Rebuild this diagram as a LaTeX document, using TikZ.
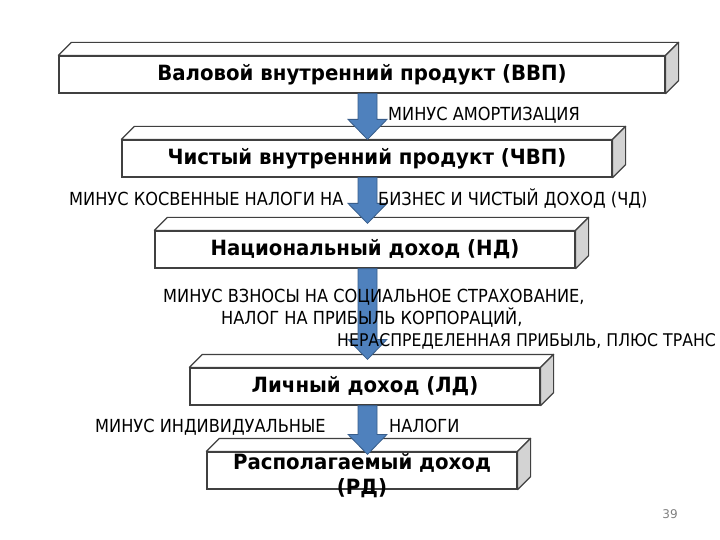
\documentclass[tikz,border=0pt]{standalone}
\usepackage{fontspec}
\setmainfont{DejaVu Sans}
\newfontfamily\notefont[FakeStretch=0.9]{DejaVu Sans}
\newfontfamily\titlefont[FakeStretch=0.94]{DejaVu Sans}
\usetikzlibrary{calc}
\definecolor{flowblue}{HTML}{4F81BD}
\definecolor{flowedge}{HTML}{385D8A}
\definecolor{slabedge}{HTML}{404040}
\definecolor{slabside}{HTML}{D3D3D3}

% front face of a slab plus its top and side faces
\newcommand\slabdepth[1]{%
  \filldraw[draw=slabedge, line width=1.2pt, fill=white, line join=round]
    (#1.north west) -- ++(13,-13) -- ($(#1.north east)+(13,-13)$) -- (#1.north east) -- cycle;
  \filldraw[draw=slabedge, line width=1.2pt, fill=slabside, line join=round]
    (#1.north east) -- ++(13,-13) -- ($(#1.south east)+(13,-13)$) -- (#1.south east) -- cycle;}

% wide block arrow from #1 down to the tip #2
\newcommand\blockarrow[2]{%
  \filldraw[flow] let \p1=(#1), \p2=(#2) in
    (\x1-9.5pt,\y1) -- (\x1-9.5pt,\y2+20pt) -- (\x1-19.5pt,\y2+20pt) -- (\x2,\y2)
    -- (\x1+19.5pt,\y2+20pt) -- (\x1+9.5pt,\y2+20pt) -- (\x1+9.5pt,\y1) -- cycle;}

\begin{document}
\begin{tikzpicture}[x=1pt, y=-1pt,
    slab/.style={draw=slabedge, line width=1.2pt, fill=white, inner sep=0pt,
      minimum height=37pt, font=\titlefont\fontsize{21}{25}\selectfont\bfseries},
    flow/.style={draw=flowedge, line width=0.8pt, fill=flowblue},
    note/.style={anchor=base west, inner sep=0pt, font=\notefont\fontsize{18}{22}\selectfont}]
  \useasboundingbox[fill=white] (0,0) rectangle (720,540);

  \node[slab, minimum width=606pt] (vvp)  at (362,74.5)  {Валовой внутренний продукт (ВВП)};
  \node[slab, minimum width=490pt] (chvp) at (367,158.5) {Чистый внутренний продукт (ЧВП)};
  \node[slab, minimum width=420pt] (nd)   at (365,249.5) {Национальный доход (НД)};
  \node[slab, minimum width=350pt] (ld)   at (365,386.5) {Личный доход (ЛД)};
  \node[slab, minimum width=310pt] (rd)   at (362,470.5)
    {\raisebox{-11.5pt}[0pt][0pt]{\begin{tabular}{@{}c@{}}Располагаемый доход\\(РД)\end{tabular}}};
  \slabdepth{vvp}
  \slabdepth{chvp}
  \slabdepth{nd}
  \slabdepth{ld}
  \slabdepth{rd}

  \coordinate (axis) at (367.5,0);
  \blockarrow{vvp.south -| axis}{chvp.north -| axis}
  \blockarrow{chvp.south -| axis}{$(nd.north -| axis)+(0,-7)$}
  \blockarrow{nd.south -| axis}{$(ld.north -| axis)+(0,-8)$}
  \blockarrow{ld.south -| axis}{$(rd.north -| axis)+(0,3)$}

  \node[note] (amort) at (388,121) {МИНУС АМОРТИЗАЦИЯ};
  \node[note] (kosv)  at (69,206)  {МИНУС КОСВЕННЫЕ НАЛОГИ НА};
  \node[note] (biz)   at (378,206) {БИЗНЕС И ЧИСТЫЙ ДОХОД (ЧД)};
  \node[note] (vzn)   at (163,302) {МИНУС ВЗНОСЫ НА СОЦИАЛЬНОЕ СТРАХОВАНИЕ,};
  \node[note] (nalog) at (221,324) {НАЛОГ НА ПРИБЫЛЬ КОРПОРАЦИЙ,};
  \node[note, font=\notefont\fontsize{17.5}{22}\selectfont] (neras) at (337,346)
    {НЕРАСПРЕДЕЛЕННАЯ ПРИБЫЛЬ, ПЛЮС ТРАНС};
  \node[note] (indiv) at (95,432)  {МИНУС ИНДИВИДУАЛЬНЫЕ};
  \node[note] (ind2)  at (389,432) {НАЛОГИ};
  \node[font=\fontsize{12}{14}\selectfont, text=gray] (page) at (670,514) {39};
\end{tikzpicture}
\end{document}
